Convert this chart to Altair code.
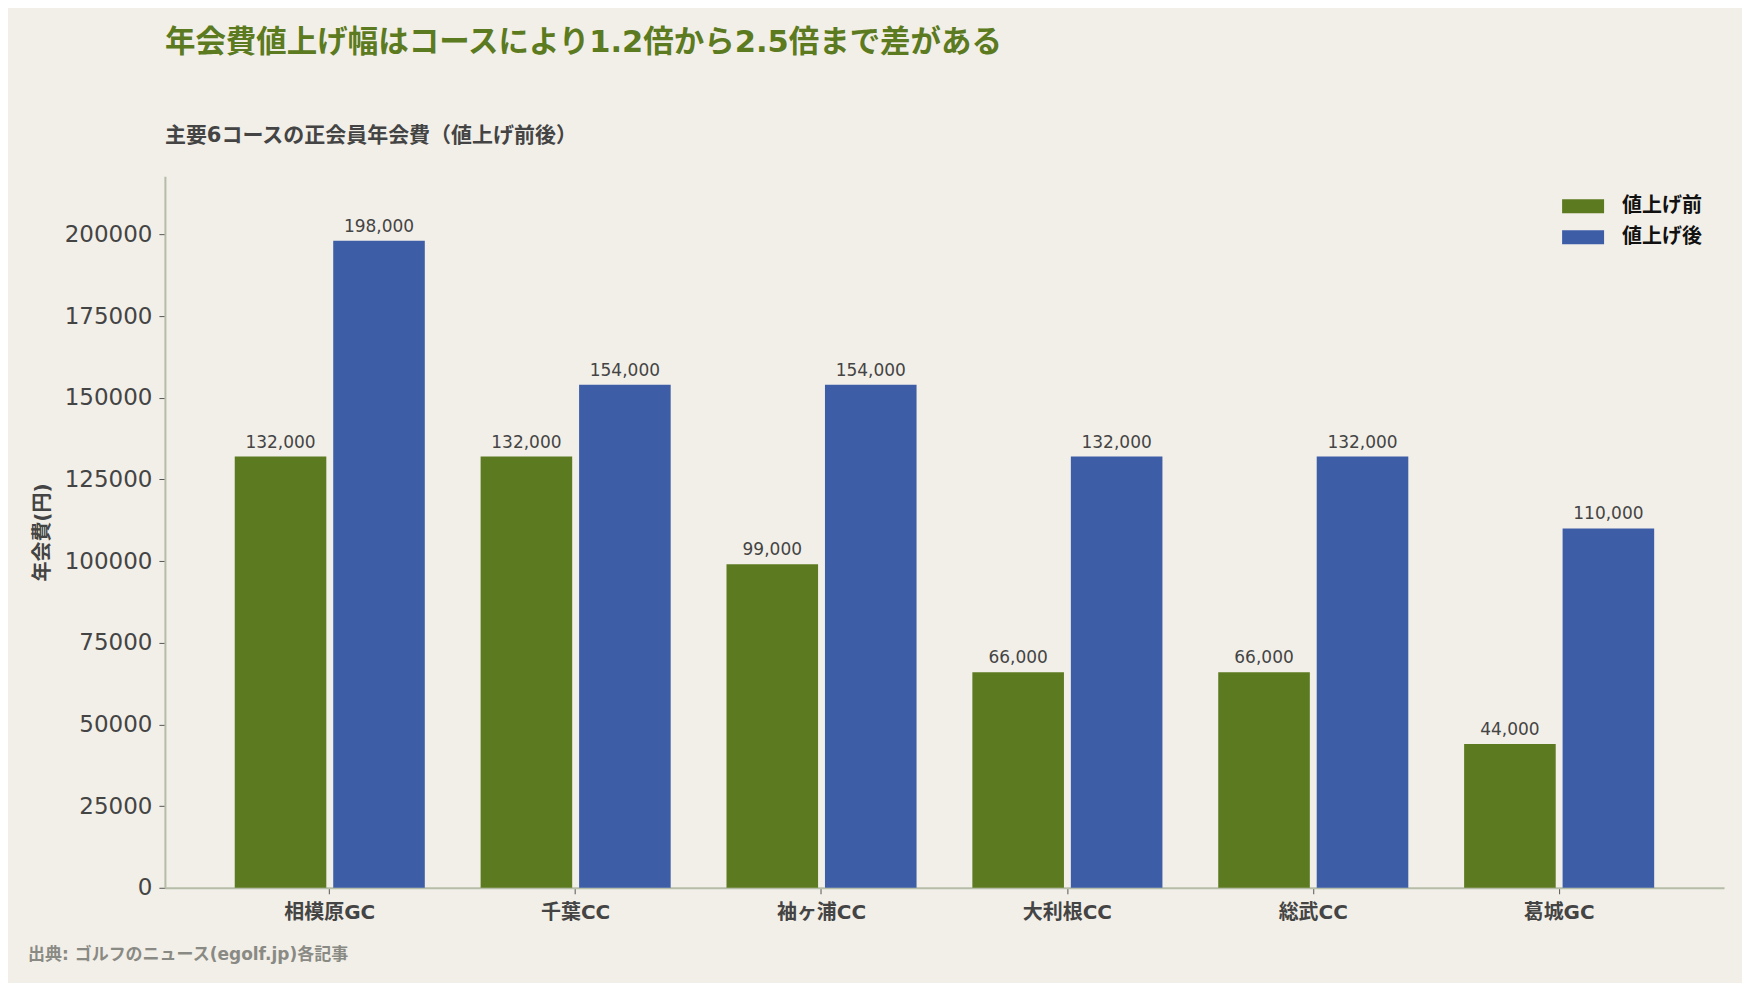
import pandas as pd
import altair as alt

courses = ["相模原GC", "千葉CC", "袖ヶ浦CC", "大利根CC", "総武CC", "葛城GC"]
periods = ["値上げ前", "値上げ後"]
before_fee = [132000, 132000, 99000, 66000, 66000, 44000]
after_fee = [198000, 154000, 154000, 132000, 132000, 110000]
y_ticks = [0, 25000, 50000, 75000, 100000, 125000, 150000, 175000, 200000]

title_text = "年会費値上げ幅はコースにより1.2倍から2.5倍まで差がある"
subtitle_text = "主要6コースの正会員年会費（値上げ前後）"
source_text = "出典: ゴルフのニュース(egolf.jp)各記事"

FONT = "DejaVu Sans, Noto Sans CJK JP"
GREEN = "#5c7a20"
BLUE = "#3d5ea7"

df = pd.DataFrame({
    "course": courses * 2,
    "period": [periods[0]] * len(courses) + [periods[1]] * len(courses),
    "fee": before_fee + after_fee,
})

x_enc = alt.X("course:N", sort=courses,
              scale=alt.Scale(paddingInner=0.227, paddingOuter=0.284),
              axis=alt.Axis(title=None, labelAngle=0, labelFontSize=20, labelFontWeight="bold",
                            labelColor="#444", labelPadding=9, tickColor="#555", tickSize=6,
                            domainColor="#b5bca8", domainWidth=2))
xoff_enc = alt.XOffset("period:N", sort=periods, scale=alt.Scale(paddingInner=0.07))
y_enc = alt.Y("fee:Q", scale=alt.Scale(domain=[0, 217800], nice=False),
              axis=alt.Axis(title="年会費(円)", values=y_ticks, format="d", grid=False,
                            labelFontSize=23, labelColor="#444", labelPadding=7,
                            tickColor="#555", tickSize=6, domainColor="#b5bca8", domainWidth=2,
                            titleFontSize=20, titleFontWeight="bold", titleColor="#444",
                            titlePadding=12))

bars = alt.Chart(df).mark_bar().encode(
    x=x_enc,
    xOffset=xoff_enc,
    y=y_enc,
    color=alt.Color("period:N", sort=periods,
                    scale=alt.Scale(domain=periods, range=[GREEN, BLUE]),
                    legend=alt.Legend(title=None, orient="none", legendX=1398, legendY=9,
                                      symbolType="M-1,-0.333H1V0.333H-1Z", symbolSize=1764,
                                      symbolStrokeWidth=0, labelFontSize=20,
                                      labelFontWeight="bold", labelColor="#111",
                                      labelOffset=18, rowPadding=0, padding=0)),
)

labels = alt.Chart(df).mark_text(baseline="bottom", dy=-5, fontSize=17, color="#444").encode(
    x=x_enc,
    xOffset=xoff_enc,
    y=y_enc,
    text=alt.Text("fee:Q", format=","),
)

source = alt.Chart(pd.DataFrame({"t": [source_text]})).mark_text(
    align="left", baseline="alphabetic", fontSize=17, fontWeight="bold", color="#8a8a84"
).encode(x=alt.value(-137), y=alt.value(784), text="t:N")

chart = alt.layer(bars, labels, source).properties(
    width=1560,
    height=712,
    padding={"left": 157, "top": 168, "right": 18, "bottom": 95},
    autosize=alt.AutoSizeParams(type="none"),
    background="#f2efe8",
    title=alt.TitleParams(text=title_text, subtitle=subtitle_text, anchor="start", frame="group",
                          fontSize=30.5, fontWeight="bold", color=GREEN,
                          subtitleFontSize=21, subtitleFontWeight="bold",
                          subtitleColor="#444", subtitlePadding=67, offset=30),
).configure(font=FONT).configure_view(stroke=None)

chart.save("out.html", embed_options={"renderer": "svg", "actions": False})
